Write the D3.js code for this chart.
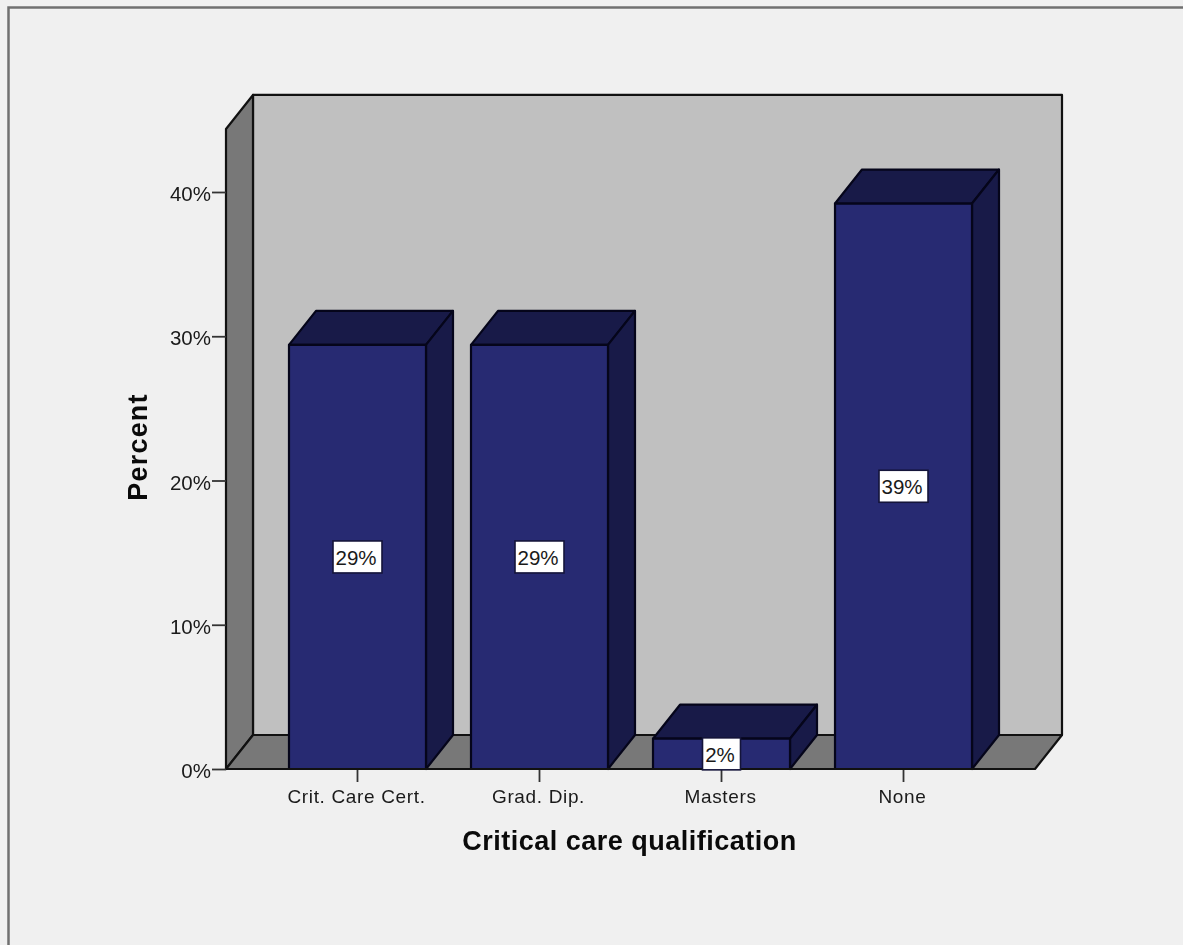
<!DOCTYPE html>
<html><head><meta charset="utf-8">
<script src="https://cdn.jsdelivr.net/npm/d3@7/dist/d3.min.js"></script>
<style>
html,body{margin:0;padding:0;background:#f0f0f0;overflow:hidden}
svg{display:block;filter:blur(0.6px)}
text{font-family:"Liberation Sans",Arial,sans-serif;fill:#1a1a1a}
.axis path{display:none}
</style></head><body>
<script>
const categories = ["Crit. Care Cert.", "Grad. Dip.", "Masters", "None"];
const percents = [29.4, 29.4, 2.1, 39.2];
const valueLabels = ["29%", "29%", "2%", "39%"];
const yTicks = [0, 10, 20, 30, 40];
const yTop = 44.37;
const xTitle = "Critical care qualification";
const yTitle = "Percent";

const W = 1183, H = 945;
const svg = d3.select("body").append("svg").attr("width", W).attr("height", H);

const y = d3.scaleLinear().domain([0, 40]).range([769, 192]);
const x = d3.scaleBand().domain(categories).range([266.5, 994.5]).paddingInner(0.2473).paddingOuter(0.1236);
const dx = 27, dy = -34;
const left = 226, right = 1035, base = y(0), top_ = y(yTop);
const line = d3.line();
const edge = "#111";

// outer frame
svg.append("path").attr("d", line([[8.5, H], [8.5, 7.5], [W, 7.5]]))
  .attr("fill", "none").attr("stroke", "#707070").attr("stroke-width", 2.5);

// back wall, side wall, floor
const face = (pts, fill, sw = 2.2) => svg.append("path").attr("d", line(pts) + "Z")
  .attr("fill", fill).attr("stroke", edge).attr("stroke-width", sw).attr("stroke-linejoin", "round");
face([[left + dx, top_ + dy], [right + dx, top_ + dy], [right + dx, base + dy], [left + dx, base + dy]], "#c0c0c0");
face([[left, top_], [left + dx, top_ + dy], [left + dx, base + dy], [left, base]], "#787878");
face([[left, base], [left + dx, base + dy], [right + dx, base + dy], [right, base]], "#787878");

// y axis
const yAxis = svg.append("g").attr("class", "axis").attr("transform", `translate(${left},0)`)
  .call(d3.axisLeft(y).tickValues(yTicks).tickSize(14).tickPadding(1).tickFormat(d => d + "%"));
yAxis.selectAll("line").attr("stroke", "#333").attr("stroke-width", 1.8);
yAxis.selectAll("text").attr("font-size", 20.5).attr("dy", "0.42em").style("fill", "#1a1a1a");

// x axis
const xAxis = svg.append("g").attr("class", "axis").attr("transform", `translate(0,${base})`)
  .call(d3.axisBottom(x).tickSize(13).tickPadding(8));
xAxis.selectAll("line").attr("stroke", "#333").attr("stroke-width", 1.8);
xAxis.selectAll("text").attr("font-size", 19).attr("letter-spacing", 0.65).attr("dx", -1).style("fill", "#1a1a1a");

// 3D bars
const bars = svg.append("g").selectAll("g").data(categories).join("g");
const poly = (sel, fn, fill) => sel.append("path")
  .attr("d", (c, i) => line(fn(x(c), x(c) + x.bandwidth(), y(percents[i]))) + "Z")
  .attr("fill", fill).attr("stroke", "#05051a").attr("stroke-width", 2.2).attr("stroke-linejoin", "round");
poly(bars, (a, b, t) => [[a, t], [a + dx, t + dy], [b + dx, t + dy], [b, t]], "#181a48");
poly(bars, (a, b, t) => [[b, t], [b + dx, t + dy], [b + dx, base + dy], [b, base]], "#181a48");
poly(bars, (a, b, t) => [[a, t], [b, t], [b, base], [a, base]], "#272a72");

// baseline
svg.append("path").attr("d", line([[left, base], [right, base]])).attr("stroke", edge).attr("stroke-width", 2.2);

// value labels
const lab = svg.append("g").selectAll("g").data(categories).join("g")
  .attr("transform", (c, i) => `translate(${x(c) + x.bandwidth() / 2},${y(percents[i] / 2)})`);
lab.append("rect")
  .attr("x", (c, i) => valueLabels[i].length > 2 ? -24.5 : -19)
  .attr("width", (c, i) => valueLabels[i].length > 2 ? 49 : 38)
  .attr("y", -16).attr("height", 32)
  .attr("fill", "#fff").attr("stroke", "#14143a").attr("stroke-width", 1.6);
lab.append("text").text((c, i) => valueLabels[i]).attr("text-anchor", "middle")
  .attr("dx", -1.5).attr("dy", "0.38em").attr("font-size", 20.5);

// axis titles
svg.append("text").text(xTitle).attr("x", 629.5).attr("y", 850).attr("text-anchor", "middle")
  .attr("font-size", 27).attr("font-weight", "bold").attr("letter-spacing", 0.5).style("fill", "#0a0a0a");
svg.append("text").text(yTitle).attr("transform", "translate(147,447) rotate(-90)").attr("text-anchor", "middle")
  .attr("font-size", 27).attr("font-weight", "bold").attr("letter-spacing", 1.2).style("fill", "#0a0a0a");
</script>
</body></html>
